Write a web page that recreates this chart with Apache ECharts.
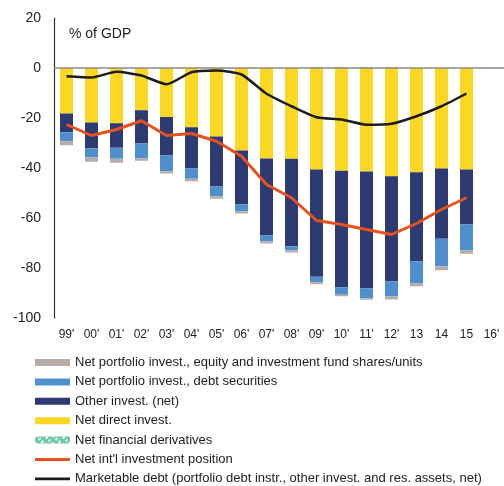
<!DOCTYPE html>
<html>
<head>
    <meta charset="utf-8">
    <title>ECharts</title>
    <script src="https://cdn.jsdelivr.net/npm/echarts@6/dist/echarts.min.js"></script>
</head>
<body style="margin:0">
    <div id="container" style="width:504px;height:486px;"></div>
    <script type="text/javascript">
        var years = ["99'", "00'", "01'", "02'", "03'", "04'", "05'", "06'", "07'", "08'", "09'", "10'", "11'", "12'", "13", "14", "15", "16'"];
        // stacked components, % of GDP
        var directInv  = [-18.2, -21.8, -22.1, -16.9, -19.6, -23.7, -27.4, -33.0, -36.2, -36.3, -40.6, -41.1, -41.4, -43.3, -41.7, -40.2, -40.6, null];
        var otherInv   = [-7.5, -10.4, -9.8, -13.3, -15.4, -16.5, -20.0, -21.6, -30.8, -35.1, -42.9, -46.6, -46.8, -42.0, -35.6, -28.1, -22.0, null];
        var debtSec    = [-3.6, -3.6, -4.4, -5.9, -6.3, -4.1, -4.0, -2.8, -2.4, -1.6, -2.2, -3.0, -3.9, -6.1, -8.9, -11.1, -10.4, null];
        var equitySec  = [-1.6, -1.7, -1.6, -1.0, -0.9, -1.0, -0.9, -0.8, -0.8, -0.8, -0.8, -0.6, -0.6, -1.2, -1.1, -1.5, -1.3, null];
        var derivs     = [0, 0, 0, 0, 0, 0, 0, 0, 0, 0, 0.3, 0.3, 0.3, 0.3, 0, 0, 0, null];
        var niip       = [-22.6, -27.0, -24.6, -21.1, -27.0, -26.2, -29.3, -35.3, -46.6, -51.9, -61.0, -62.6, -64.6, -66.6, -62.2, -56.6, -51.9, null];
        var mktDebt    = [-3.3, -3.8, -1.5, -3.0, -6.5, -1.7, -1.0, -2.6, -10.3, -15.3, -19.7, -20.6, -22.7, -22.3, -19.3, -15.3, -10.2, null];

        var names = [
            'Net portfolio invest., equity and investment fund shares/units',
            'Net portfolio invest., debt securities',
            'Other invest. (net)',
            'Net direct invest.',
            'Net financial derivatives',
            "Net int'l investment position",
            'Marketable debt (portfolio debt instr., other invest. and res. assets, net)'
        ];

        var myChart = echarts.init(document.getElementById('container'));
        var font = 'Liberation Sans, Arial, sans-serif';

        var option = {
            animation: false,
            textStyle: { fontFamily: font },
            title: {
                text: '% of GDP',
                left: 64,
                top: 22,
                textStyle: { fontSize: 14, fontWeight: 'normal', color: '#222', fontFamily: font }
            },
            legend: {
                orient: 'vertical',
                left: 35,
                top: 356,
                height: 150,
                padding: 0,
                itemWidth: 35,
                itemHeight: 7,
                itemGap: 6.4,
                textStyle: { fontSize: 13, color: '#222', lineHeight: 13 },
                data: [
                    { name: names[0], icon: 'rect' },
                    { name: names[1], icon: 'rect' },
                    { name: names[2], icon: 'rect' },
                    { name: names[3], icon: 'rect' },
                    { name: names[4], icon: 'rect' },
                    { name: names[5], icon: 'path://M0,0h36v3.2H0z' },
                    { name: names[6], icon: 'path://M0,0h36v2.8H0z' }
                ]
            },
            grid: {
                left: 54,
                right: -5,
                top: 18,
                bottom: 168
            },
            xAxis: {
                type: 'category',
                data: years,
                axisLine: { show: false, onZero: false },
                axisTick: { show: false },
                axisLabel: { fontSize: 12, color: '#222', margin: 11, interval: 0 }
            },
            yAxis: {
                type: 'value',
                min: -100,
                max: 20,
                interval: 20,
                axisLine: { show: true, lineStyle: { color: '#333', width: 1.2 } },
                axisTick: { show: false },
                splitLine: { show: false },
                axisLabel: { fontSize: 14, color: '#222', margin: 13 }
            },
            series: [
                {
                    name: names[3], type: 'bar', stack: 'iip', barWidth: 13,
                    itemStyle: { color: '#fdd823' },
                    data: directInv,
                    markLine: {
                        silent: true,
                        symbol: ['none', 'none'],
                        label: { show: false },
                        lineStyle: { color: '#8a8a8a', width: 1.5, type: 'solid' },
                        data: [{ yAxis: 0 }]
                    }
                },
                { name: names[2], type: 'bar', stack: 'iip', barWidth: 13, itemStyle: { color: '#2e3a72' }, data: otherInv },
                { name: names[1], type: 'bar', stack: 'iip', barWidth: 13, itemStyle: { color: '#4f8fcd' }, data: debtSec },
                { name: names[0], type: 'bar', stack: 'iip', barWidth: 13, itemStyle: { color: '#b7aca5' }, data: equitySec },
                {
                    name: names[4], type: 'bar', stack: 'iip', barWidth: 13,
                    itemStyle: {
                        color: '#6fc7a5',
                        decal: { symbol: 'rect', color: 'rgba(255,255,255,0.85)', dashArrayX: [[3, 3]], dashArrayY: [2, 2], rotation: -Math.PI / 4, symbolSize: 1 }
                    },
                    data: derivs
                },
                {
                    name: names[5], type: 'line', symbol: 'none',
                    lineStyle: { color: '#e8501e', width: 3 },
                    itemStyle: { color: '#e8501e' },
                    data: niip
                },
                {
                    name: names[6], type: 'line', symbol: 'none', smooth: 0.2,
                    lineStyle: { color: '#1c1c1c', width: 2.5 },
                    itemStyle: { color: '#1c1c1c' },
                    data: mktDebt
                }
            ]
        };

        myChart.setOption(option);
    </script>
</body>
</html>
